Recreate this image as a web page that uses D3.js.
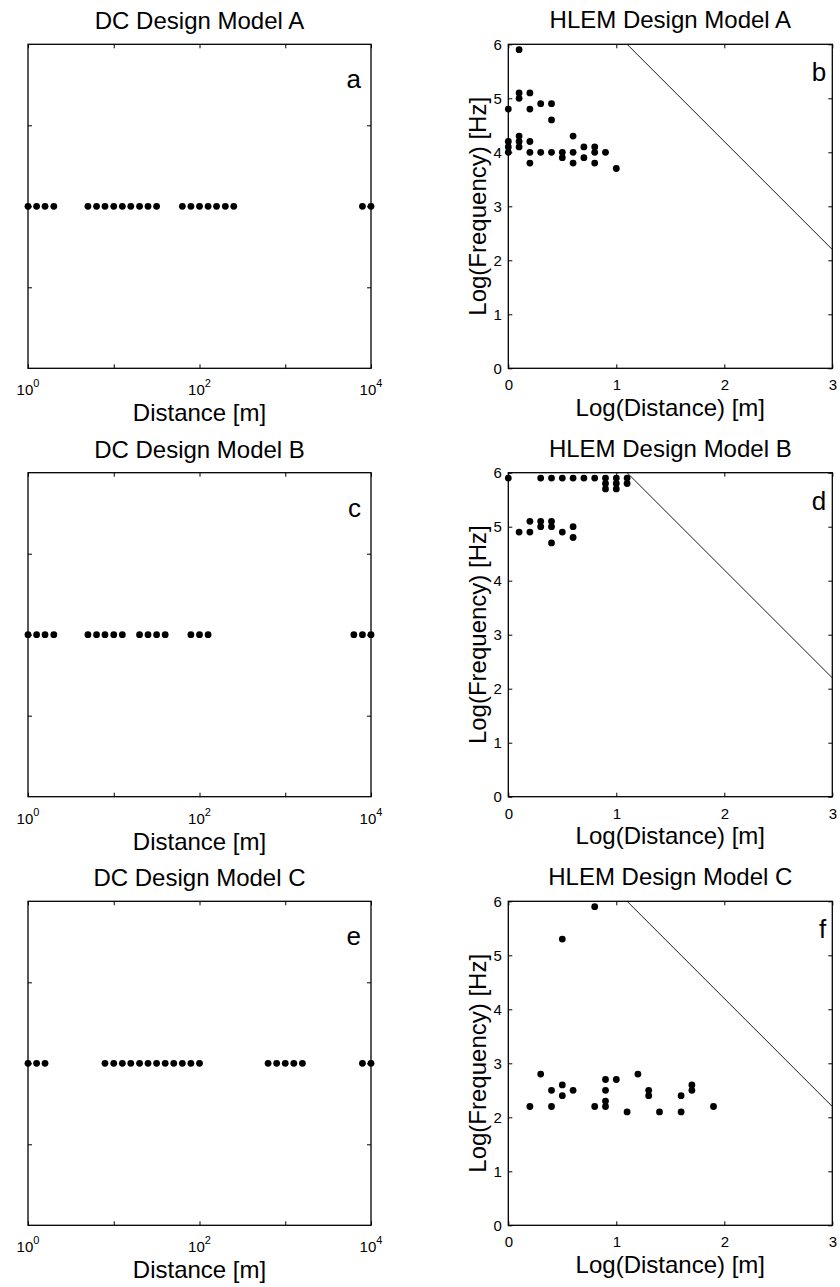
<!DOCTYPE html>
<html>
<head>
<meta charset="utf-8">
<script src="https://cdn.jsdelivr.net/npm/d3@7"></script>
<style>
  html, body { margin: 0; padding: 0; background: #fff; }
  svg { display: block; font-family: "Liberation Sans", Arial, Helvetica, sans-serif; }
</style>
</head>
<body>
<svg id="chart" width="840" height="1287"></svg>
<script>
// ---- Data ----
const dcTitles = ["DC Design Model A", "DC Design Model B", "DC Design Model C"];
const hlemTitles = ["HLEM Design Model A", "HLEM Design Model B", "HLEM Design Model C"];
const dcLetters = ["a", "c", "e"];
const hlemLetters = ["b", "d", "f"];

// DC electrode distances [m]
const dcA = [1, 1.26, 1.58, 2.0, 5.0, 6.3, 7.9, 10, 12.6, 15.8, 20, 25.1, 31.6, 63.1, 79.4, 100, 126, 158, 200, 251, 7943, 10000];
const dcB = [1, 1.26, 1.58, 2.0, 5.0, 6.3, 7.9, 10, 12.6, 20, 25.1, 31.6, 39.8, 79.4, 100, 126, 6310, 7943, 10000];
const dcC = [1, 1.26, 1.58, 7.9, 10, 12.6, 15.8, 20, 25.1, 31.6, 39.8, 50.1, 63.1, 79.4, 100, 631, 794, 1000, 1259, 1585, 7943, 10000];

// HLEM: log(distance) and log(frequency)
const hlemAx = [0.1, 0.1, 0.1, 0.2, 0, 0.2, 0.3, 0.4, 0.4, 0.1, 0.1, 0.1, 0, 0, 0, 0.2, 0.2, 0.2, 0.3, 0.4, 0.5, 0.5, 0.6, 0.6, 0.6, 0.7, 0.7, 0.8, 0.8, 0.8, 0.9, 1.0];
const hlemAy = [5.9, 5.1, 5.0, 5.1, 4.8, 4.8, 4.9, 4.9, 4.6, 4.3, 4.2, 4.1, 4.2, 4.1, 4.0, 4.2, 4.0, 3.8, 4.0, 4.0, 4.0, 3.9, 4.3, 4.0, 3.8, 4.1, 3.9, 4.1, 4.0, 3.8, 4.0, 3.7];

const hlemBx = [0, 0.3, 0.4, 0.5, 0.6, 0.7, 0.8, 0.9, 0.9, 0.9, 1.0, 1.0, 1.0, 1.1, 1.1, 0.1, 0.2, 0.2, 0.3, 0.3, 0.4, 0.4, 0.4, 0.5, 0.6, 0.6];
const hlemBy = [5.9, 5.9, 5.9, 5.9, 5.9, 5.9, 5.9, 5.9, 5.8, 5.7, 5.9, 5.8, 5.7, 5.9, 5.8, 4.9, 5.1, 4.9, 5.1, 5.0, 5.1, 5.0, 4.7, 4.9, 5.0, 4.8];

const hlemCx = [0.8, 0.5, 0.2, 0.3, 0.4, 0.4, 0.5, 0.5, 0.6, 0.8, 0.9, 0.9, 0.9, 0.9, 1.0, 1.1, 1.2, 1.3, 1.3, 1.4, 1.6, 1.6, 1.7, 1.7, 1.9];
const hlemCy = [5.9, 5.3, 2.2, 2.8, 2.5, 2.2, 2.6, 2.4, 2.5, 2.2, 2.7, 2.5, 2.3, 2.2, 2.7, 2.1, 2.8, 2.5, 2.4, 2.1, 2.4, 2.1, 2.6, 2.5, 2.2];

// skin-depth limit line (log distance, log frequency)
const limitX = [1.1, 3];
const limitY = [6, 2.2];

const dcXTicks = [1, 10, 100, 1000, 10000];
const dcXLabels = [{v: 1, e: "0"}, {v: 100, e: "2"}, {v: 10000, e: "4"}];
const dcYTicks = [0.25, 0.5, 0.75];
const hlemXTicks = [0, 1, 2, 3];
const hlemYTicks = [0, 1, 2, 3, 4, 5, 6];

const dcSets = [dcA, dcB, dcC];
const hlemSets = [[hlemAx, hlemAy], [hlemBx, hlemBy], [hlemCx, hlemCy]];

// ---- Layout ----
const panelTops = [44.3, 472.7, 901.3];
const panelH = 324;
const dcLeft = 28, dcRight = 371;
const hlLeft = 508.3, hlRight = 832.3;
const R = 3.4;
const TICK = 4;

const svg = d3.select("#chart");

function styleAxis(g) {
  g.select(".domain").remove();
  g.selectAll(".tick line").attr("stroke", "#000").attr("stroke-width", 1);
  g.selectAll(".tick text").attr("fill", "#000").style("font-size", "15px")
    .style("font-family", "'Liberation Sans', Arial, Helvetica, sans-serif");
}

for (let i = 0; i < 3; i++) {
  const top = panelTops[i], bottom = top + panelH;

  // ---------- DC panel ----------
  const xd = d3.scaleLog().domain([1, 10000]).range([dcLeft, dcRight]);
  const yd = d3.scaleLinear().domain([0, 1]).range([bottom, top]);
  const gd = svg.append("g");

  gd.append("g").attr("transform", `translate(0,${bottom})`)
    .call(d3.axisBottom(xd).tickValues(dcXTicks).tickSize(-TICK).tickSizeOuter(0).tickFormat(""))
    .call(styleAxis);
  gd.append("g").attr("transform", `translate(0,${top})`)
    .call(d3.axisTop(xd).tickValues(dcXTicks).tickSize(-TICK).tickSizeOuter(0).tickFormat(""))
    .call(styleAxis);
  gd.append("g").attr("transform", `translate(${dcLeft},0)`)
    .call(d3.axisLeft(yd).tickValues(dcYTicks).tickSize(-TICK).tickSizeOuter(0).tickFormat(""))
    .call(styleAxis);
  gd.append("g").attr("transform", `translate(${dcRight},0)`)
    .call(d3.axisRight(yd).tickValues(dcYTicks).tickSize(-TICK).tickSizeOuter(0).tickFormat(""))
    .call(styleAxis);

  gd.append("rect").attr("x", dcLeft).attr("y", top).attr("width", dcRight - dcLeft).attr("height", panelH)
    .attr("fill", "none").attr("stroke", "#000").attr("stroke-width", 1.3);

  // tick labels 10^n
  dcXLabels.forEach(l => {
    const t = gd.append("text").attr("x", xd(l.v)).attr("y", bottom + 27)
      .attr("text-anchor", "middle").style("font-size", "15px").attr("fill", "#000");
    t.append("tspan").text("10");
    t.append("tspan").attr("dy", -8).style("font-size", "11px").text(l.e);
  });

  gd.append("text").attr("x", (dcLeft + dcRight) / 2).attr("y", bottom + 53)
    .attr("text-anchor", "middle").style("font-size", "24px").text("Distance [m]");
  gd.append("text").attr("x", (dcLeft + dcRight) / 2).attr("y", top - 15)
    .attr("text-anchor", "middle").style("font-size", "24px").text(dcTitles[i]);
  gd.append("text").attr("x", dcRight - 10).attr("y", top + 44)
    .attr("text-anchor", "end").style("font-size", "26px").text(dcLetters[i]);

  gd.selectAll("circle.dot").data(dcSets[i]).join("circle")
    .attr("class", "dot")
    .attr("cx", d => xd(d)).attr("cy", yd(0.5)).attr("r", R).attr("fill", "#000");

  // ---------- HLEM panel ----------
  const xh = d3.scaleLinear().domain([0, 3]).range([hlLeft, hlRight]);
  const yh = d3.scaleLinear().domain([0, 6]).range([bottom, top]);
  const gh = svg.append("g");

  gh.append("g").attr("transform", `translate(0,${bottom})`)
    .call(d3.axisBottom(xh).tickValues(hlemXTicks).tickSize(-TICK).tickSizeOuter(0).tickFormat(d3.format("d")))
    .call(styleAxis)
    .call(g => g.selectAll(".tick text").attr("y", 22).attr("dy", null));
  gh.append("g").attr("transform", `translate(0,${top})`)
    .call(d3.axisTop(xh).tickValues(hlemXTicks).tickSize(-TICK).tickSizeOuter(0).tickFormat(""))
    .call(styleAxis);
  gh.append("g").attr("transform", `translate(${hlLeft},0)`)
    .call(d3.axisLeft(yh).tickValues(hlemYTicks).tickSize(-TICK).tickSizeOuter(0).tickPadding(6).tickFormat(d3.format("d")))
    .call(styleAxis)
    .call(g => g.selectAll(".tick text").attr("x", -6.5).attr("dy", "0.34em"));
  gh.append("g").attr("transform", `translate(${hlRight},0)`)
    .call(d3.axisRight(yh).tickValues(hlemYTicks).tickSize(-TICK).tickSizeOuter(0).tickFormat(""))
    .call(styleAxis);

  gh.append("rect").attr("x", hlLeft).attr("y", top).attr("width", hlRight - hlLeft).attr("height", panelH)
    .attr("fill", "none").attr("stroke", "#000").attr("stroke-width", 1.3);

  const line = d3.line().x((d, k) => xh(limitX[k])).y((d, k) => yh(limitY[k]));
  gh.append("path").datum(limitX).attr("d", line)
    .attr("fill", "none").attr("stroke", "#000").attr("stroke-width", 0.9);

  gh.append("text").attr("x", (hlLeft + hlRight) / 2).attr("y", bottom + 47.7)
    .attr("text-anchor", "middle").style("font-size", "24px").text("Log(Distance) [m]");
  gh.append("text").attr("transform", `translate(${hlLeft - 22.5},${(top + bottom) / 2}) rotate(-90)`)
    .attr("text-anchor", "middle").style("font-size", "24px").text("Log(Frequency) [Hz]");
  gh.append("text").attr("x", (hlLeft + hlRight) / 2).attr("y", top - 16)
    .attr("text-anchor", "middle").style("font-size", "24px").text(hlemTitles[i]);
  gh.append("text").attr("x", hlRight - 6).attr("y", top + 37)
    .attr("text-anchor", "end").style("font-size", "26px").text(hlemLetters[i]);

  const [hx, hy] = hlemSets[i];
  gh.selectAll("circle.dot").data(hx.map((x, k) => [x, hy[k]])).join("circle")
    .attr("class", "dot")
    .attr("cx", d => xh(d[0])).attr("cy", d => yh(d[1])).attr("r", R).attr("fill", "#000");
}
</script>
</body>
</html>
